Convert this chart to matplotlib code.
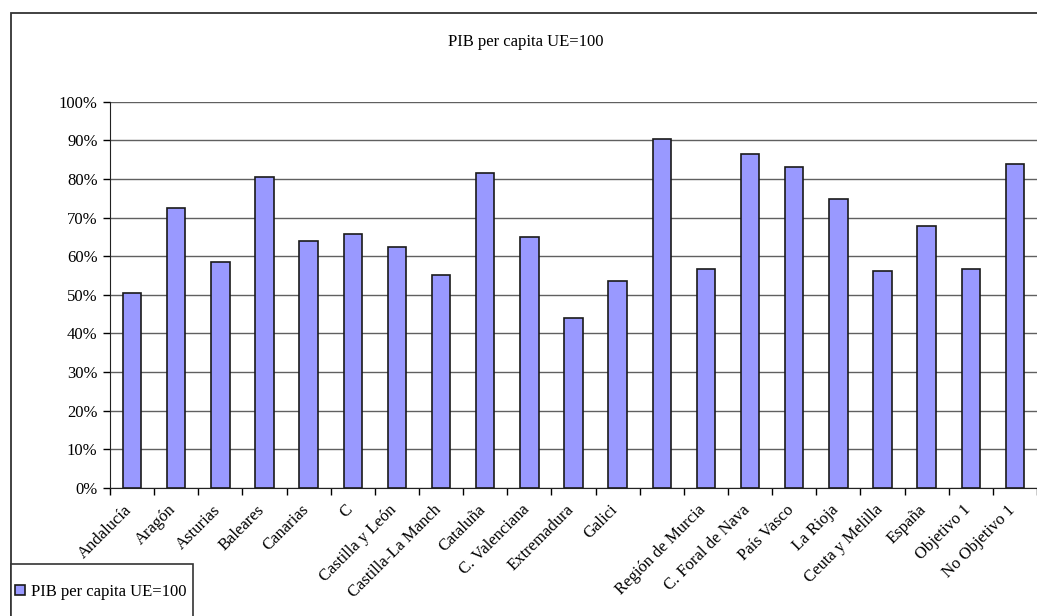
import numpy as np
import matplotlib.pyplot as plt
import matplotlib.transforms as mtransforms
from matplotlib.patches import Rectangle
from matplotlib.ticker import PercentFormatter

plt.rcParams['font.family'] = ['Liberation Serif', 'DejaVu Serif']

# Datos
regiones = ['Andalucía', 'Aragón', 'Asturias', 'Baleares', 'Canarias', 'C',
            'Castilla y León', 'Castilla-La Manch', 'Cataluña', 'C. Valenciana',
            'Extremadura', 'Galici', '', 'Región de Murcia', 'C. Foral de Nava',
            'País Vasco', 'La Rioja', 'Ceuta y Melilla', 'España', 'Objetivo 1',
            'No Objetivo 1']
pib = [50.4, 72.4, 58.5, 80.5, 63.9, 65.8, 62.3, 55.1, 81.6, 65.0, 44.0,
       53.5, 90.3, 56.7, 86.5, 83.2, 74.7, 56.3, 67.8, 56.7, 83.9]
serie = 'PIB per capita UE=100'
titulo = 'PIB per capita UE=100'

fig = plt.figure(figsize=(10.37, 6.16), dpi=100)
ax = fig.add_axes([110/1037, 1 - 488/616, 1 - 110/1037, (488 - 101.7)/616])

x = np.arange(len(regiones))
barras = ax.bar(x, pib, width=0.42, color='#9999FF', edgecolor='#1a1a1a',
                linewidth=1.2, label=serie, zorder=3)

ax.set_xlim(-0.5, len(regiones) - 0.5)
ax.set_ylim(0, 100)
ax.set_yticks(np.arange(0, 101, 10))
ax.yaxis.set_major_formatter(PercentFormatter(decimals=0))
ax.grid(axis='y', color='#606060', linewidth=1, zorder=0)

ax.set_xticks(x)
ax.set_xticklabels(regiones, rotation=45, ha='right', rotation_mode='anchor',
                   fontsize=12)
ax.set_xticks(np.arange(-0.5, len(regiones) - 0.4, 1), minor=True)
ax.tick_params(axis='x', which='major', length=0, pad=10)
ax.tick_params(axis='x', which='minor', length=5, width=1, direction='out')
ax.tick_params(axis='y', length=5, width=1, direction='out', labelsize=12,
               pad=4)

# desplazar etiquetas un poco a la izquierda
despl = mtransforms.ScaledTranslation(-8/100, 0, fig.dpi_scale_trans)
for lab in ax.get_xticklabels():
    lab.set_transform(lab.get_transform() + despl)

for s in ['top', 'right']:
    ax.spines[s].set_visible(False)
ax.spines['left'].set_color('#222222')
ax.spines['bottom'].set_color('#222222')

# Marco exterior
fig.patches.append(Rectangle((11/1037, -0.1), 1.1, 1.1 - 13/616,
                             transform=fig.transFigure, fill=False,
                             edgecolor='#333333', linewidth=1.3))

fig.text(526/1037, 1 - 42/616, titulo, ha='center', va='center', fontsize=12)

# Leyenda (marco aparte, se sale por abajo)
fig.patches.append(Rectangle((11/1037, -0.1), (193 - 11)/1037, 0.1 + 1 - 564/616,
                             transform=fig.transFigure, fill=True,
                             facecolor='white', edgecolor='#333333',
                             linewidth=1.2, zorder=5))
leg = fig.legend(loc='center left', bbox_to_anchor=(12/1037, 1 - 592/616),
                 borderaxespad=0, frameon=False, fontsize=12,
                 handlelength=0.6, handleheight=0.6, handletextpad=0.35,
                 borderpad=0.2)
leg.set_zorder(6)

fig.savefig('out.png', dpi=100)
